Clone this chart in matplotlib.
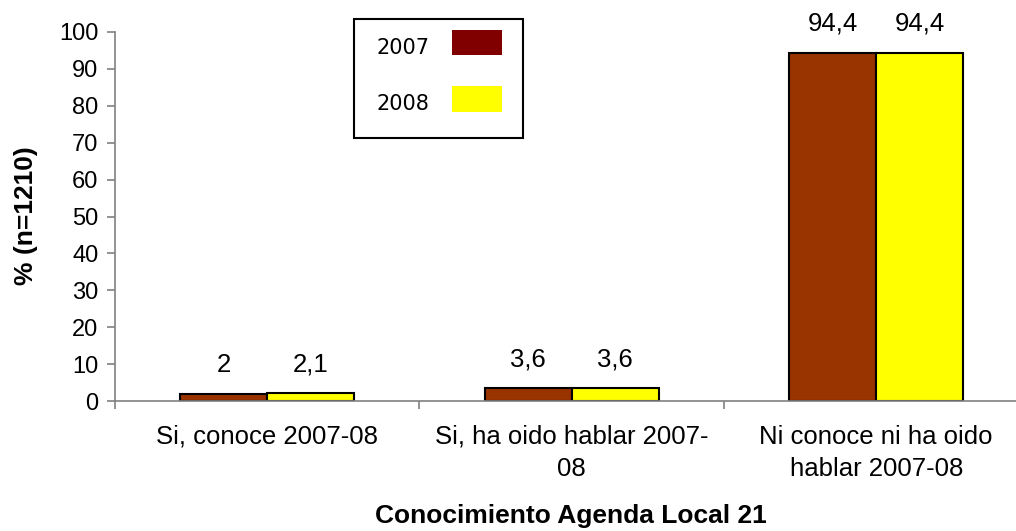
import matplotlib
matplotlib.use('Agg')
import matplotlib.pyplot as plt
from matplotlib.patches import Rectangle
import numpy as np

# data
categories = ['Si, conoce 2007-08', 'Si, ha oido hablar 2007-\n08', 'Ni conoce ni ha oido\nhablar 2007-08']
years = ['2007', '2008']
vals_2007 = [2, 3.6, 94.4]
vals_2008 = [2.1, 3.6, 94.4]

bar_colors = ['#993300', '#FFFF00']
legend_colors = ['#800000', '#FFFF00']

plt.rcParams['font.family'] = ['Liberation Sans', 'DejaVu Sans']

W, H = 1016, 531
fig = plt.figure(figsize=(W / 100, H / 100), dpi=100)

def px(x0, y0, x1, y1):
    # pixel box (top-left origin) -> figure fraction [l, b, w, h]
    return [x0 / W, 1 - y1 / H, (x1 - x0) / W, (y1 - y0) / H]

ax = fig.add_axes(px(115, 32, 1028.5, 401))

x = np.arange(len(categories))
w = 0.286
for i, (vals, col) in enumerate(zip([vals_2007, vals_2008], bar_colors)):
    pos = x - w / 2 + i * w
    ax.bar(pos, vals, width=w, color=col, edgecolor='black', linewidth=1.5, zorder=3)
    for p, v in zip(pos, vals):
        ax.annotate(f'{v:g}'.replace('.', ','), (p, v), xytext=(0, 12),
                    textcoords='offset points', ha='center', va='bottom', fontsize=18.5)

ax.set_xlim(-0.5, 2.5)
ax.set_ylim(0, 100)
ax.set_yticks(np.arange(0, 101, 10))
ax.set_xticks(x)
ax.set_xticklabels(categories, linespacing=1.45)
ax.set_xticks([-0.5, 0.5, 1.5, 2.5], minor=True)
ax.tick_params(axis='x', which='major', length=0, pad=17, labelsize=18.5)
ax.tick_params(axis='x', which='minor', length=6, color='#808080', width=1.2)
ax.tick_params(axis='y', length=6, color='#808080', width=1.2, labelsize=17, pad=6)
for s in ['top', 'right']:
    ax.spines[s].set_visible(False)
for s in ['left', 'bottom']:
    ax.spines[s].set_color('#808080')
    ax.spines[s].set_linewidth(1.2)
ax.spines['bottom'].set_zorder(4)

fig.text(26 / W, 1 - 216 / H, '% (n=1210)', rotation=90, ha='center', va='center',
         fontsize=19, fontweight='bold')
fig.text(571 / W, 1 - 516 / H, 'Conocimiento Agenda Local 21', ha='center', va='center',
         fontsize=19, fontweight='bold')

# legend box drawn by hand
fig.patches.append(Rectangle((354 / W, 1 - 138 / H), (523 - 354) / W, (138 - 19) / H,
                             transform=fig.transFigure, facecolor='white',
                             edgecolor='black', linewidth=1.5))
for yr, col, yc in zip(years, legend_colors, [42.5, 99]):
    fig.patches.append(Rectangle((452 / W, 1 - (yc + 12.5) / H), 50 / W, 25 / H,
                                 transform=fig.transFigure, facecolor=col, edgecolor='none'))
    fig.text(376 / W, 1 - (yc + 5.5) / H, yr, ha='left', va='center', fontsize=15,
             family='DejaVu Sans')

fig.savefig('out.png', dpi=100)
